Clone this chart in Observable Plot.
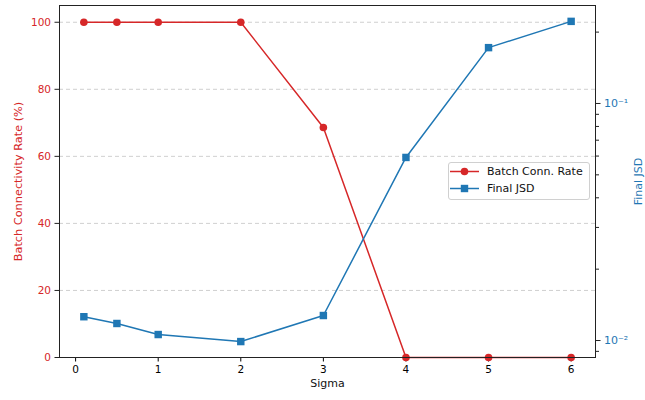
<!DOCTYPE html>
<html><head><meta charset="utf-8">
<script src="https://cdn.jsdelivr.net/npm/d3@7"></script>
<script src="https://cdn.jsdelivr.net/npm/@observablehq/plot@0.6"></script>
<style>
body{margin:0;background:#fff;font-family:"DejaVu Sans",sans-serif}
#wrap{position:relative;width:645px;height:400px}
#wrap svg{position:absolute;left:0;top:0}
</style></head><body><div id="wrap"></div>
<script>
const sigma = [0.1, 0.5, 1, 2, 3, 4, 5, 6];
const connRate = [100, 100, 100, 100, 68.6, 0, 0, 0];
const finalJSD = [0.0126, 0.0118, 0.0106, 0.0099, 0.01275, 0.0592, 0.172, 0.222];
const xTicks = [0, 1, 2, 3, 4, 5, 6];
const leftTicks = [0, 20, 40, 60, 80, 100];
const rightMajor = [0.01, 0.1];
const rightMinor = [0.009, 0.02, 0.03, 0.04, 0.05, 0.06, 0.07, 0.08, 0.09, 0.2];
const seriesNames = ["Batch Conn. Rate", "Final JSD"];
const xLabel = "Sigma";
const leftLabel = "Batch Connectivity Rate (%)";
const rightLabel = "Final JSD";

const RED = "#d62728", BLUE = "#1f77b4";
const W = 645, H = 400;
const margins = {marginLeft: 59, marginRight: 50, marginTop: 5, marginBottom: 43};
const font = {fontSize: "10.5px", fontFamily: "DejaVu Sans", background: "transparent", overflow: "visible"};
const xDomain = [-0.195, 6.295];

const rows = sigma.map((s, i) => ({s, c: connRate[i], j: finalJSD[i]}));
const sup = {"-": "\u207B", "0": "\u2070", "1": "\u00B9", "2": "\u00B2", "3": "\u00B3"};
const fmtPow = d => "10" + String(Math.round(Math.log10(d))).split("").map(ch => sup[ch] || ch).join("");

const p1 = Plot.plot({
  width: W, height: H, ...margins, style: font,
  x: {domain: xDomain},
  y: {domain: [0, 105]},
  marks: [
    Plot.gridY(leftTicks.filter(d => d > 0), {stroke: "#b0b0b0", strokeOpacity: 0.6, strokeDasharray: "4,3"}),
    Plot.axisX(xTicks, {tickSize: 4.5, tickPadding: 4, label: null, tickFormat: d => String(d)}),
    Plot.axisY(leftTicks, {tickSize: 4.5, tickPadding: 4, label: null, fill: RED, stroke: "#222", tickFormat: d => String(d)}),
    Plot.line(rows, {x: "s", y: "c", stroke: RED, strokeWidth: 1.5}),
    Plot.dot(rows, {x: "s", y: "c", fill: RED, r: 3.8, symbol: "circle"}),
    Plot.text([xLabel], {frameAnchor: "bottom", dy: 29, text: d => d, fill: "#111", fontSize: 11, textAnchor: "middle"}),
    Plot.text([leftLabel], {frameAnchor: "left", dx: -41, rotate: -90, text: d => d, fill: RED, fontSize: 11.3, textAnchor: "middle"})
  ]
});

const p2 = Plot.plot({
  width: W, height: H, ...margins, style: font,
  x: {domain: xDomain, axis: null},
  y: {type: "log", domain: [0.00848, 0.259]},
  marks: [
    Plot.axisY(rightMinor, {anchor: "right", tickSize: 3, tickFormat: () => "", label: null, stroke: "#222"}),
    Plot.axisY(rightMajor, {anchor: "right", tickSize: 4.5, tickPadding: 4, label: null, fill: BLUE, stroke: "#222", tickFormat: fmtPow, fontSize: 11}),
    Plot.line(rows, {x: "s", y: "j", stroke: BLUE, strokeWidth: 1.5}),
    Plot.dot(rows, {x: "s", y: "j", fill: BLUE, r: 4.2, symbol: "square"}),
    Plot.text([rightLabel], {frameAnchor: "right", dx: 43, rotate: -90, text: d => d, fill: BLUE, fontSize: 11, textAnchor: "middle"}),
    Plot.frame({stroke: "#222", strokeWidth: 1})
  ]
});

const wrap = document.getElementById("wrap");
wrap.appendChild(p1);
wrap.appendChild(p2);

// legend
const leg = d3.select(wrap).append("svg").attr("width", W).attr("height", H).style("overflow", "visible");
const g = leg.append("g").attr("transform", "translate(448,162)");
g.append("rect").attr("x", 0.5).attr("y", 0.5).attr("width", 141).attr("height", 37).attr("rx", 2.5)
  .attr("fill", "white").attr("fill-opacity", 0.85).attr("stroke", "#d0d0d0");
const colors = [RED, BLUE];
seriesNames.forEach((name, i) => {
  const y = 9.5 + i * 17;
  g.append("line").attr("x1", 2).attr("x2", 31).attr("y1", y).attr("y2", y).attr("stroke", colors[i]).attr("stroke-width", 1.5);
  if (i === 0) g.append("circle").attr("cx", 16.5).attr("cy", y).attr("r", 3.8).attr("fill", colors[i]);
  else g.append("rect").attr("x", 16.5 - 3.7).attr("y", y - 3.7).attr("width", 7.4).attr("height", 7.4).attr("fill", colors[i]);
  g.append("text").attr("x", 39).attr("y", y).attr("dy", "0.35em").attr("font-size", 11).attr("font-family", "DejaVu Sans").attr("fill", "#111").text(name);
});
</script></body></html>
